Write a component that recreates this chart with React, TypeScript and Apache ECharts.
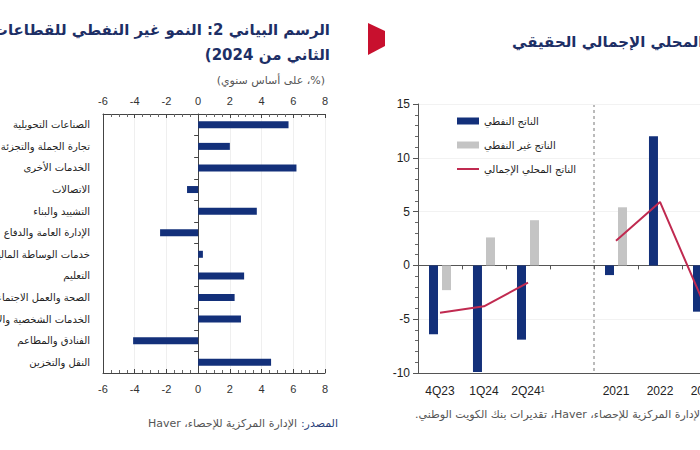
import React, { useEffect, useRef } from "react";
import * as echarts from "echarts";

// Left chart: non-oil growth by sector (% y/y)
const sectorNames = [
  "الصناعات التحويلية",
  "تجارة الجملة والتجزئة",
  "الخدمات الأخرى",
  "الاتصالات",
  "التشييد والبناء",
  "الإدارة العامة والدفاع",
  "خدمات الوساطة المالية",
  "التعليم",
  "الصحة والعمل الاجتماعي",
  "الخدمات الشخصية والاجتماعية",
  "الفنادق والمطاعم",
  "النقل والتخزين",
];
const sectorGrowth = [5.7, 2.0, 6.2, -0.7, 3.7, -2.4, 0.3, 2.9, 2.3, 2.7, -4.1, 4.6];

// Right chart: real GDP
const periods = ["4Q23", "1Q24", "2Q24¹", "", "2021", "2022", "2023"];
const oilGdp = [-6.4, -9.9, -6.9, null, -0.9, 12.0, -4.3];
const nonOilGdp = [-2.3, 2.6, 4.2, null, 5.4, null, null];
const totalGdp = [-4.4, -3.8, -1.6, null, 2.3, 5.9, -3.6];

const seriesNames = ["الناتج النفطي", "الناتج غير النفطي", "الناتج المحلي الإجمالي"];

const NAVY = "#13307a";
const GREY = "#c4c4c4";
const CRIMSON = "#c02a50";
const AR = "DejaVu Sans";
const LAT = "Liberation Sans";
const RLE = (s: string) => "\u202B" + s + "\u202C";

export default function App() {
  const ref = useRef<HTMLDivElement>(null);
  useEffect(() => {
    if (!ref.current) return;
    const chart = echarts.init(ref.current, null, { renderer: "svg" });
    const tickLabel = { fontFamily: LAT, fontSize: 11, color: "#333" };
    chart.setOption({
      animation: false,
      backgroundColor: "#fff",
      grid: [
        { left: 103, top: 114, width: 222, height: 259, outerBoundsMode: "none", containLabel: false },
        { left: 418, top: 104, width: 308, height: 269, outerBoundsMode: "none", containLabel: false },
      ],
      legend: {
        data: [
          { name: seriesNames[0], icon: "rect" },
          { name: seriesNames[1], icon: "rect" },
          { name: seriesNames[2], icon: "path://M0,0L22,0L22,2L0,2Z" },
        ],
        orient: "vertical",
        left: 452,
        top: 111,
        itemWidth: 22,
        itemHeight: 7,
        itemGap: 14,
        symbolKeepAspect: true,
        textStyle: { fontFamily: AR, fontSize: 10, color: "#222" },
      },
      xAxis: [
        {
          type: "value", gridIndex: 0, position: "top", min: -6, max: 8, interval: 2,
          axisLine: { show: true, lineStyle: { color: "#444" } },
          axisTick: { show: true, inside: true, length: 4, lineStyle: { color: "#444" } },
          minorTick: { show: true, splitNumber: 4, length: 3, lineStyle: { color: "#666" } },
          axisLabel: { ...tickLabel, margin: 8 },
          splitLine: { show: true, lineStyle: { color: "#efefef" } },
        },
        {
          type: "value", gridIndex: 0, position: "bottom", min: -6, max: 8, interval: 2,
          axisLine: { show: true, lineStyle: { color: "#444" } },
          axisTick: { show: true, inside: true, length: 4, lineStyle: { color: "#444" } },
          minorTick: { show: true, splitNumber: 4, length: 3, lineStyle: { color: "#666" } },
          axisLabel: { ...tickLabel, margin: 10 },
          splitLine: { show: false },
        },
        {
          type: "category", gridIndex: 1, position: "bottom", data: periods,
          axisLine: { show: true, onZero: true, lineStyle: { color: "#555" } },
          axisTick: { show: true, length: 4, lineStyle: { color: "#555" } },
          axisLabel: { show: false },
        },
        {
          type: "category", gridIndex: 1, position: "bottom", data: periods,
          axisLine: { show: true, onZero: false, lineStyle: { color: "#555" } },
          axisTick: { show: false },
          axisLabel: { fontFamily: LAT, fontSize: 12, color: "#222", margin: 12, interval: 0 },
        },
      ],
      yAxis: [
        {
          type: "category", gridIndex: 0, inverse: true, data: sectorNames,
          axisLine: { show: true, onZero: true, lineStyle: { color: "#444" } },
          axisTick: { show: true, length: 4, interval: 0, lineStyle: { color: "#444" } },
          axisLabel: { show: false },
        },
        {
          type: "category", gridIndex: 0, inverse: true, data: sectorNames, position: "left",
          axisLine: { show: true, onZero: false, lineStyle: { color: "#444" } },
          axisTick: { show: false },
          axisLabel: { fontFamily: AR, fontSize: 10, color: "#222", margin: 13, interval: 0 },
        },
        {
          type: "value", gridIndex: 1, min: -10, max: 15, interval: 5,
          axisLine: { show: true, lineStyle: { color: "#555" } },
          axisTick: { show: true, length: 5, lineStyle: { color: "#555" } },
          minorTick: { show: true, splitNumber: 5, length: 3, lineStyle: { color: "#666" } },
          axisLabel: { fontFamily: LAT, fontSize: 12, color: "#222", margin: 8 },
          splitLine: { show: true, lineStyle: { color: "#f2f2f2" } },
        },
      ],
      series: [
        {
          type: "bar", xAxisIndex: 0, yAxisIndex: 0, data: sectorGrowth,
          barWidth: 7, itemStyle: { color: NAVY },
        },
        {
          name: seriesNames[0], type: "bar", xAxisIndex: 2, yAxisIndex: 2, data: oilGdp,
          barWidth: 9, barGap: "45%", itemStyle: { color: NAVY },
        },
        {
          name: seriesNames[1], type: "bar", xAxisIndex: 2, yAxisIndex: 2, data: nonOilGdp,
          barWidth: 9, barGap: "45%", itemStyle: { color: GREY },
        },
        {
          name: seriesNames[2], type: "line", xAxisIndex: 2, yAxisIndex: 2, data: totalGdp,
          symbol: "none", connectNulls: false, lineStyle: { color: CRIMSON, width: 2 },
          itemStyle: { color: CRIMSON },
        },
      ],
      graphic: [
        {
          type: "text", x: 330, y: 30,
          style: {
            text: RLE("الرسم البياني 2: النمو غير النفطي للقطاعات (الربع"),
            align: "right", verticalAlign: "middle",
            font: "bold 15px 'DejaVu Sans'", fill: "#1d2f66",
          },
        },
        {
          type: "text", x: 330, y: 55,
          style: {
            text: RLE("الثاني من 2024)"),
            align: "right", verticalAlign: "middle",
            font: "bold 15px 'DejaVu Sans'", fill: "#1d2f66",
          },
        },
        {
          type: "text", x: 325, y: 80,
          style: {
            text: RLE("(%، على أساس سنوي)"),
            align: "right", verticalAlign: "middle",
            font: "11px 'DejaVu Sans'", fill: "#555",
          },
        },
        {
          type: "text", x: 338, y: 423,
          style: {
            text: RLE("المصدر:"), align: "right", verticalAlign: "middle",
            font: "11px 'DejaVu Sans'", fill: "#2b3f7a",
          },
        },
        {
          type: "text", x: 297, y: 423,
          style: {
            text: RLE("الإدارة المركزية للإحصاء، Haver"), align: "right", verticalAlign: "middle",
            font: "11px 'DejaVu Sans'", fill: "#555",
          },
        },
        {
          type: "polygon",
          shape: { points: [[368, 23], [385, 31], [385, 46], [368, 55]] },
          style: { fill: "#c8102e" },
        },
        {
          type: "text", x: 512, y: 42,
          style: {
            text: RLE("الرسم البياني 1: الناتج المحلي الإجمالي الحقيقي"),
            align: "left", verticalAlign: "middle",
            font: "bold 15px 'DejaVu Sans'", fill: "#1d2f66",
          },
        },
        {
          type: "text", x: 415, y: 414,
          style: {
            text: RLE("المصدر: الإدارة المركزية للإحصاء، Haver، تقديرات بنك الكويت الوطني."),
            align: "left", verticalAlign: "middle",
            font: "11px 'DejaVu Sans'", fill: "#555",
          },
        },
      ],
    });
    const a = chart.convertToPixel({ xAxisIndex: 2 }, 3) as number;
    const b = chart.convertToPixel({ xAxisIndex: 2 }, 4) as number;
    const top = chart.convertToPixel({ yAxisIndex: 2 }, 15) as number;
    const bot = chart.convertToPixel({ yAxisIndex: 2 }, -10) as number;
    const xm = (a + b) / 2;
    chart.setOption({
      graphic: [
        {
          id: "divider", type: "line",
          shape: { x1: xm, y1: top, x2: xm, y2: bot },
          style: { stroke: "#777", lineWidth: 1, lineDash: [3, 3] },
        },
      ],
    });
    return () => chart.dispose();
  }, []);
  return (
    <div
      ref={ref}
      style={{ position: "absolute", left: 0, top: 0, width: 700, height: 450, background: "#fff" }}
    />
  );
}
